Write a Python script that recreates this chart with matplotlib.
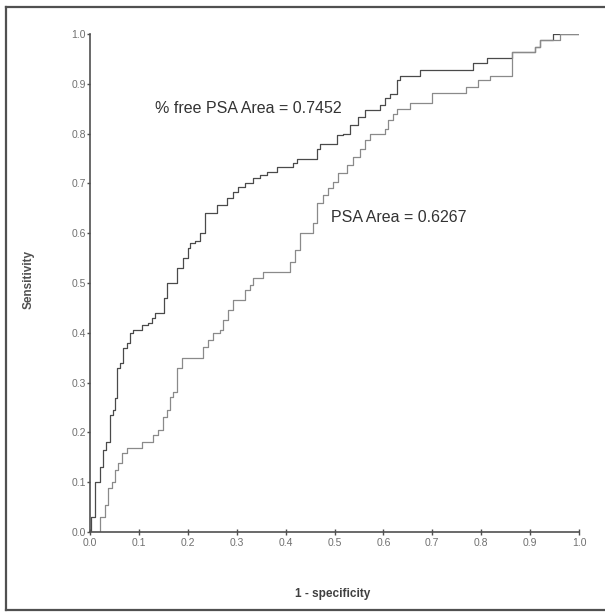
import matplotlib
matplotlib.use("Agg")
import matplotlib.pyplot as plt
from matplotlib.lines import Line2D

# ROC curves (1 - specificity, sensitivity)
free_fpr = [0.000, 0.002, 0.010, 0.020, 0.027, 0.033, 0.041, 0.047, 0.051, 0.055,
            0.061, 0.067, 0.076, 0.082, 0.088, 0.106, 0.119, 0.127, 0.133, 0.151,
            0.157, 0.178, 0.190, 0.200, 0.204, 0.215, 0.225, 0.235, 0.260, 0.280,
            0.292, 0.302, 0.317, 0.333, 0.348, 0.362, 0.383, 0.416, 0.423, 0.464,
            0.470, 0.505, 0.517, 0.532, 0.548, 0.562, 0.593, 0.603, 0.613, 0.628,
            0.634, 0.675, 0.783, 0.812, 0.863, 0.910, 0.920, 0.947, 1.000]
free_tpr = [0.000, 0.030, 0.100, 0.130, 0.165, 0.180, 0.235, 0.245, 0.270, 0.330,
            0.340, 0.370, 0.380, 0.400, 0.405, 0.415, 0.420, 0.430, 0.440, 0.470,
            0.500, 0.530, 0.550, 0.570, 0.580, 0.585, 0.600, 0.640, 0.656, 0.670,
            0.683, 0.693, 0.700, 0.710, 0.717, 0.723, 0.733, 0.740, 0.750, 0.770,
            0.780, 0.797, 0.800, 0.817, 0.833, 0.847, 0.857, 0.871, 0.880, 0.908,
            0.916, 0.928, 0.942, 0.952, 0.964, 0.974, 0.988, 1.000, 1.000]

psa_fpr = [0.000, 0.020, 0.031, 0.037, 0.045, 0.051, 0.057, 0.065, 0.076, 0.106,
           0.129, 0.139, 0.149, 0.157, 0.164, 0.170, 0.178, 0.188, 0.231, 0.241,
           0.252, 0.266, 0.272, 0.282, 0.292, 0.317, 0.327, 0.333, 0.354, 0.409,
           0.419, 0.429, 0.456, 0.464, 0.476, 0.487, 0.497, 0.507, 0.525, 0.538,
           0.552, 0.562, 0.573, 0.603, 0.609, 0.619, 0.628, 0.654, 0.699, 0.769,
           0.793, 0.817, 0.863, 0.910, 0.920, 0.961, 1.000]
psa_tpr = [0.000, 0.030, 0.054, 0.088, 0.100, 0.125, 0.138, 0.158, 0.168, 0.180,
           0.195, 0.205, 0.230, 0.245, 0.272, 0.282, 0.330, 0.350, 0.372, 0.385,
           0.400, 0.405, 0.425, 0.446, 0.466, 0.486, 0.496, 0.510, 0.522, 0.542,
           0.566, 0.600, 0.620, 0.660, 0.677, 0.690, 0.703, 0.720, 0.737, 0.753,
           0.770, 0.787, 0.800, 0.810, 0.827, 0.840, 0.850, 0.861, 0.882, 0.894,
           0.908, 0.916, 0.964, 0.974, 0.988, 1.000, 1.000]

ticks = [0.0, 0.1, 0.2, 0.3, 0.4, 0.5, 0.6, 0.7, 0.8, 0.9, 1.0]
tick_labels = ["0.0", "0.1", "0.2", "0.3", "0.4", "0.5", "0.6", "0.7", "0.8", "0.9", "1.0"]

plt.rcParams['font.family'] = ['Liberation Sans', 'DejaVu Sans']

fig = plt.figure(figsize=(6.05, 6.12), dpi=100)
ax = fig.add_axes([90 / 605, 1 - 532 / 612, 489 / 605, 498 / 612])

# curvas ROC en escalera
ax.step(free_fpr, free_tpr, where='post', color='#4a4a4a', lw=0.9)
ax.step(psa_fpr, psa_tpr, where='post', color='#8a8a8a', lw=0.9)

ax.set_xlim(0, 1)
ax.set_ylim(0, 1)
ax.set_xticks(ticks)
ax.set_xticklabels(tick_labels)
ax.set_yticks(ticks)
ax.set_yticklabels(tick_labels)
for s in ['top', 'right']:
    ax.spines[s].set_visible(False)
for s in ['left', 'bottom']:
    ax.spines[s].set_color('#505050')
    ax.spines[s].set_linewidth(1.2)
ax.tick_params(axis='x', direction='inout', length=5, width=1, color='#505050',
               labelsize=7.5, labelcolor='#707070', pad=2)
ax.tick_params(axis='y', direction='out', length=2, width=1, color='#505050',
               labelsize=7.5, labelcolor='#707070', pad=1)

ax.text(0.133, 0.85, '% free PSA Area = 0.7452', fontsize=11.5, color='#333333',
        va='center', ha='left')
ax.text(0.493, 0.632, 'PSA Area = 0.6267', fontsize=11.5, color='#333333',
        va='center', ha='left')

fig.text(29 / 605, 1 - 280 / 612, 'Sensitivity', rotation=90, fontsize=8.5,
         fontweight='bold', color='#505050', ha='center', va='center')
fig.text(333 / 605, 1 - 594 / 612, '1 - specificity', fontsize=8.5,
         fontweight='bold', color='#404040', ha='center', va='center')

# marco exterior del escaneo
frame = [Line2D([6 / 605, 6 / 605], [1 - 7 / 612, 1 - 610 / 612]),
         Line2D([6 / 605, 1.0], [1 - 7 / 612, 1 - 7 / 612]),
         Line2D([6 / 605, 1.0], [1 - 610 / 612, 1 - 610 / 612])]
for ln in frame:
    ln.set_color('#505050')
    ln.set_linewidth(1.6)
    ln.set_transform(fig.transFigure)
    fig.add_artist(ln)

fig.savefig('out.png', dpi=100)
